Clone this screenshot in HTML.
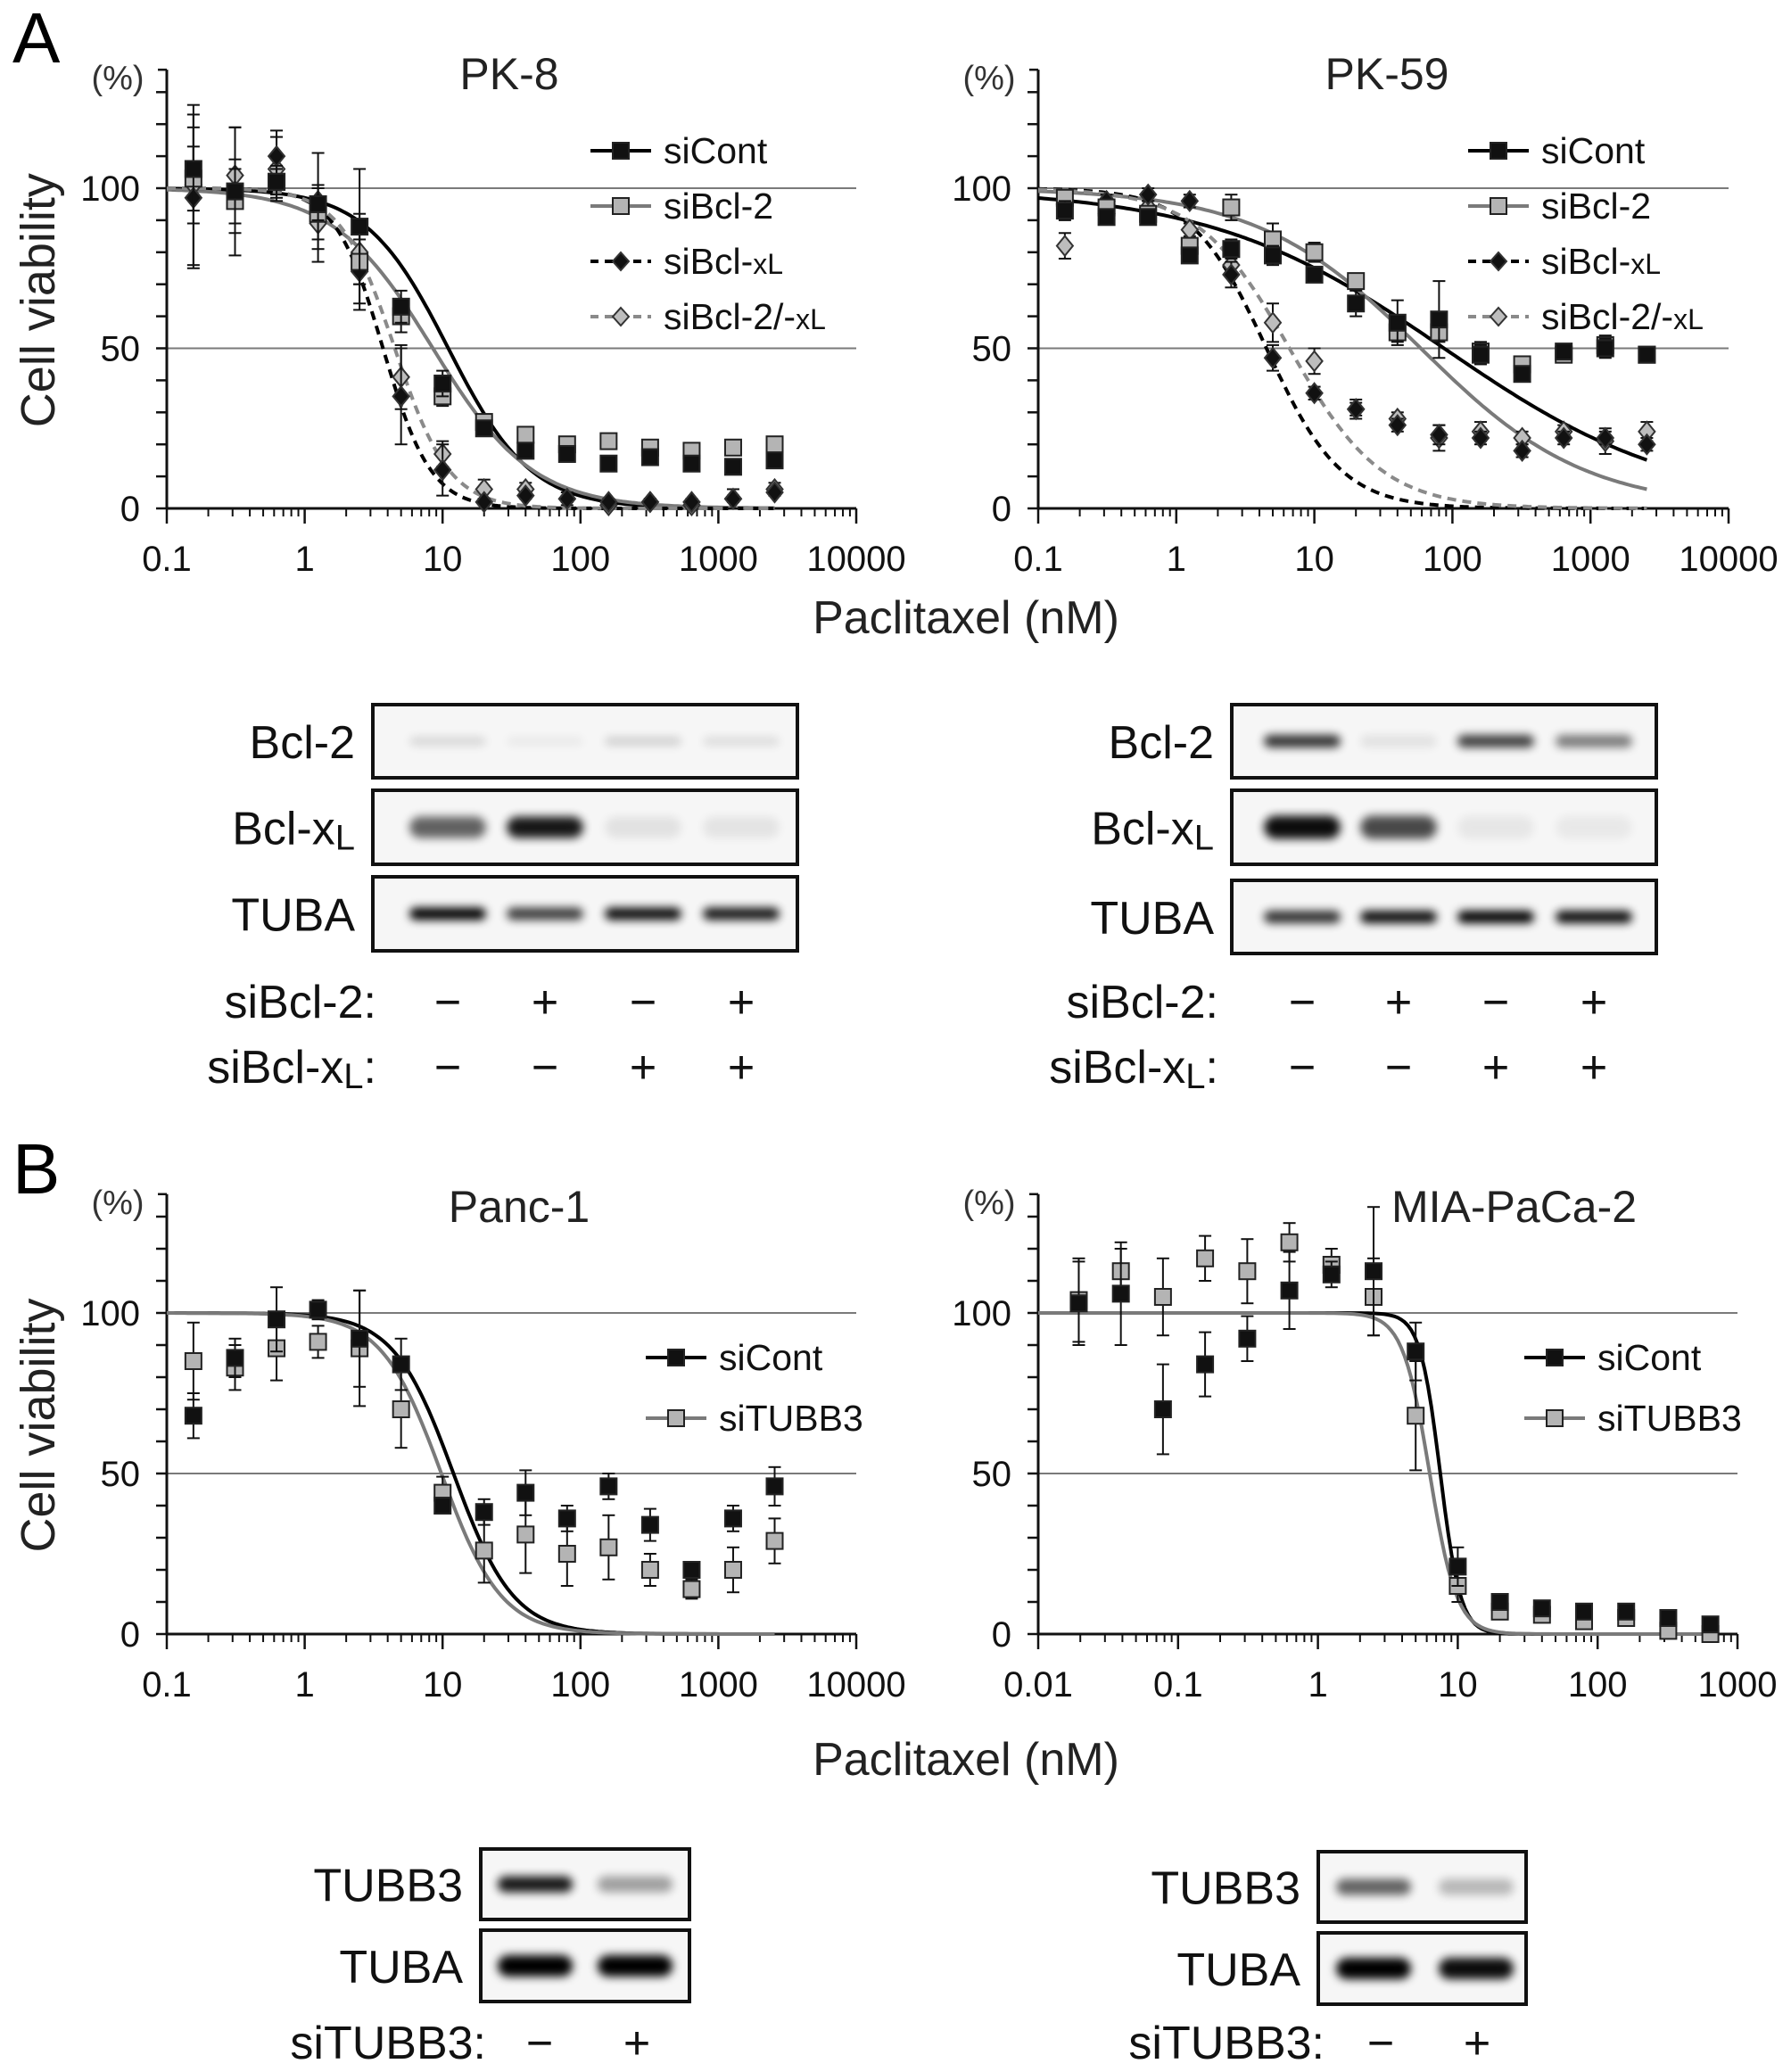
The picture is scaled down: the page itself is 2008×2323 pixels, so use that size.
<!DOCTYPE html>
<html><head><meta charset="utf-8"><style>
html,body{margin:0;padding:0;background:#fff;}
svg{display:block;font-family:"Liberation Sans",Arial,sans-serif;}
</style></head><body>
<svg id="fig" width="2008" height="2323" viewBox="0 0 2008 2323" xmlns="http://www.w3.org/2000/svg">
<defs>
<filter id="blur" x="-20%" y="-100%" width="140%" height="300%"><feGaussianBlur stdDeviation="5"/></filter>
</defs>
<g id="static">
<text x="14" y="70" font-size="80">A</text>
<text x="14" y="1338" font-size="80">B</text>
<text x="1083" y="710" font-size="52" text-anchor="middle" fill="#222">Paclitaxel (nM)</text>
<text x="1083" y="1990" font-size="52" text-anchor="middle" fill="#222">Paclitaxel (nM)</text>
</g>
<g id="plots"></g>
<g id="blots"></g>
</svg>
<script>
// ---------- data ----------
const dosesPK = [0.156,0.3125,0.625,1.25,2.5,5,10,20,40,80,160,320,640,1280,2560];
const dosesMIA = [0.0195,0.039,0.078,0.156,0.3125,0.625,1.25,2.5,5,10,20,40,80,160,320,640];
const xTicksA = ["0.1","1","10","100","1000","10000"];
const xTicksMIA = ["0.01","0.1","1","10","100","1000"];
const yTicks = [0,50,100];

const pk8Cont = [106,99,102,95,88,63,39,25,18,17,14,16,14,13,15];
const pk8Bcl2 = [103,96,102,92,77,60,35,27,23,20,21,19,18,19,20];
const pk8BclxL = [97,99,110,96,74,35,12,2,4,3,2,2,2,3,5];
const pk8Both = [101,104,106,89,80,41,17,6,6,3,1,2,1,3,6];
const pk8ContErr = [17,10,5,5,18,5,4,2,2,2,1,1,1,1,1];
const pk8Bcl2Err = [10,10,4,8,15,5,3,2,2,2,2,2,2,2,2];
const pk8BclxLErr = [22,20,8,15,10,15,8,1,1,1,1,1,1,1,1];
const pk8BothErr = [25,15,10,12,10,10,4,3,2,2,1,1,1,3,2];
const pk8Ic50 = [11,8.5,3.7,4.5];
const pk8Hill = [1.45,1.2,2.5,2.2];

const pk59Cont = [93,91,91,79,81,79,73,64,58,59,48,42,49,50,48];
const pk59Bcl2 = [97,94,92,82,94,84,80,71,55,55,49,45,48,51,48];
const pk59BclxL = [95,96,98,96,73,47,36,31,26,23,22,18,22,22,20];
const pk59Both = [82,92,94,87,76,58,46,31,28,22,24,22,24,21,24];
const pk59ContErr = [3,2,1,2,3,3,2,4,7,12,3,1,1,3,2];
const pk59Bcl2Err = [2,2,2,2,4,5,3,2,3,3,3,2,2,3,2];
const pk59BclxLErr = [2,2,2,2,4,4,2,2,2,3,2,2,2,2,2];
const pk59BothErr = [4,2,2,2,3,6,4,3,2,4,3,2,2,4,3];
const pk59Ic50 = [87,59,4.5,6.6];
const pk59Hill = [0.51,0.73,1.6,1.3];

const panc1Cont = [68,86,98,101,92,84,40,38,44,36,46,34,20,36,46];
const panc1Tubb3 = [85,83,89,91,89,70,44,26,31,25,27,20,14,20,29];
const panc1ContErr = [7,6,10,3,15,8,2,4,7,4,4,5,2,4,6];
const panc1Tubb3Err = [12,7,10,5,18,12,5,10,12,10,10,5,3,7,7];
const panc1Ic50 = [12,9.8];
const panc1Hill = [2.0,2.0];

const miaCont = [103,106,70,84,92,107,112,113,88,21,10,8,7,7,5,3];
const miaTubb3 = [104,113,105,117,113,122,115,105,68,15,7,6,4,5,1,0];
const miaContErr = [13,16,14,10,7,12,4,20,9,6,2,2,2,2,1,1];
const miaTubb3Err = [13,7,12,7,10,6,5,12,17,5,2,2,2,2,1,1];
const miaIc50 = [7.5,6.3];
const miaHill = [6,4.5];

// ---------- helpers ----------
const NS = "http://www.w3.org/2000/svg";
function mk(tag, attrs, parent){
  const e = document.createElementNS(NS, tag);
  for (const k in attrs) e.setAttribute(k, attrs[k]);
  if (parent) parent.appendChild(e);
  return e;
}
const plots = document.getElementById('plots');
const styles = {
  cont:{stroke:"#000", fill:"#111", dash:null, marker:"sq"},
  gray:{stroke:"#7a7a7a", fill:"#b4b4b4", dash:null, marker:"sq"},
  xl:{stroke:"#000", fill:"#111", dash:"10,7", marker:"di"},
  both:{stroke:"#8a8a8a", fill:"#bdbdbd", dash:"10,7", marker:"di"}
};

function drawPanel(p){
  const g = mk('g', {}, plots);
  
  
  const decs = Math.log10(p.xmax) - Math.log10(p.xmin);
  const xs = v => p.x0 + (Math.log10(v) - Math.log10(p.xmin)) / decs * (p.x1 - p.x0);
  const ys = v => p.y0 - v / 100 * (p.y0 - p.y100);
  [50,100].forEach(v=>{
    const l = mk('line', {x1:p.x0, x2:p.x1, y1:ys(v), y2:ys(v), stroke:"#7a7a7a", "stroke-width":2}, g);
    
    
  });
  const top = ys(137);
  const ya = mk('line', {x1:p.x0, x2:p.x0, y1:top, y2:p.y0, stroke:"#111", "stroke-width":3}, g);
  
  
  for (let v=0; v<=130; v+=10) mk('line', {x1:p.x0-12, x2:p.x0, y1:ys(v), y2:ys(v), stroke:"#111", "stroke-width":2.5}, g);
  mk('line', {x1:p.x0-10, x2:p.x0, y1:top, y2:top, stroke:"#111", "stroke-width":2.5}, g);
  yTicks.forEach(v=>{
    const t = mk('text', {x:p.x0-30, y:ys(v)+14, "font-size":40, "text-anchor":"end", fill:"#111"}, g);
    t.textContent = v;
    
    
  });
  const pc = mk('text', {x:p.x0-55, y:top+22, "font-size":38, "text-anchor":"middle", fill:"#333"}, g);
  pc.textContent = "(%)";
  
  
  if (p.yTitle){
    const yt = mk('text', {x:0, y:0, "font-size":54, "text-anchor":"middle", fill:"#222", transform:`translate(${p.x0-126},${ys(65)}) rotate(-90)`}, g);
    yt.textContent = "Cell viability";
    
    
  }
  const xa = mk('line', {x1:p.x0, x2:p.x1, y1:p.y0, y2:p.y0, stroke:"#111", "stroke-width":3}, g);
  
  
  const e0 = Math.round(Math.log10(p.xmin));
  for (let d=0; d<=decs; d++){
    const base = Math.pow(10, e0 + d);
    mk('line', {x1:xs(base), x2:xs(base), y1:p.y0, y2:p.y0+17, stroke:"#111", "stroke-width":2.5}, g);
    if (d < decs) for (let m=2; m<=9; m++) mk('line', {x1:xs(base*m), x2:xs(base*m), y1:p.y0, y2:p.y0+9, stroke:"#111", "stroke-width":2}, g);
    const t = mk('text', {x:xs(base), y:p.y0+70, "font-size":40, "text-anchor":"middle", fill:"#111"}, g);
    t.textContent = p.xlabels[d];
    
    
  }
  const tt = mk('text', {x:p.tx, y:p.ty, "font-size":50, "text-anchor":p.tanchor||"middle", fill:"#222"}, g);
  tt.textContent = p.title;
  
  
  p.series.forEach((s,i)=>{
    const st = styles[s.style];
    let d = "";
    const lo = Math.log10(p.xmin), hi = Math.log10(p.doses[p.doses.length-1]);
    for (let k=0; k<=200; k++){
      const lx = lo + (hi-lo)*k/200, x = Math.pow(10,lx);
      const v = 100/(1+Math.pow(x/p.ic50[i], p.hill[i]));
      d += (k?"L":"M") + xs(x).toFixed(1) + "," + ys(v).toFixed(1);
    }
    const c = mk('path', {d:d, fill:"none", stroke:st.stroke, "stroke-width":4}, g);
    if (st.dash) c.setAttribute('stroke-dasharray', st.dash);
    
    
  });
  for (let i=p.series.length-1; i>=0; i--){
    const s = p.series[i], st = styles[s.style];
    const sg = mk('g', {}, g);
    
    
    s.vals.forEach((v,j)=>{
      const x = xs(p.doses[j]), y = ys(v), e = s.err[j]*(p.y0-p.y100)/100;
      mk('line', {x1:x, x2:x, y1:y-e, y2:y+e, stroke:"#111", "stroke-width":2}, sg);
      mk('line', {x1:x-7, x2:x+7, y1:y-e, y2:y-e, stroke:"#111", "stroke-width":2}, sg);
      mk('line', {x1:x-7, x2:x+7, y1:y+e, y2:y+e, stroke:"#111", "stroke-width":2}, sg);
      let m;
      if (st.marker === "sq") m = mk('rect', {x:x-9, y:y-9, width:18, height:18, fill:st.fill, stroke:"#222", "stroke-width":2}, sg);
      else m = mk('polygon', {points:`${x},${y-11} ${x+9},${y} ${x},${y+11} ${x-9},${y}`, fill:st.fill, stroke:"#333", "stroke-width":2}, sg);
      
      
    });
  }
  p.series.forEach((s,i)=>{
    const st = styles[s.style];
    const lg = mk('g', {}, g);
    
    
    const ly = p.ly + i*p.lstep;
    const ln = mk('line', {x1:p.lx, x2:p.lx+68, y1:ly, y2:ly, stroke:st.stroke, "stroke-width":4}, lg);
    if (st.dash) ln.setAttribute('stroke-dasharray', "9,7");
    const cx = p.lx+34;
    if (st.marker === "sq") mk('rect', {x:cx-9, y:ly-9, width:18, height:18, fill:st.fill, stroke:"#222", "stroke-width":2}, lg);
    else mk('polygon', {points:`${cx},${ly-10} ${cx+9},${ly} ${cx},${ly+10} ${cx-9},${ly}`, fill:st.fill, stroke:"#333", "stroke-width":2}, lg);
    const t = mk('text', {x:p.lx+82, y:ly+14, "font-size":41, fill:"#111"}, lg);
    t.textContent = s.label;
    if (s.sub){ const ts = mk('tspan', {"font-size":32}, t); ts.textContent = s.sub; }
  });
}

const ser4 = (c,b,x,bo,ce,be,xe,boe)=>[
  {key:"sicont", label:"siCont", style:"cont", vals:c, err:ce},
  {key:"sibcl2", label:"siBcl-2", style:"gray", vals:b, err:be},
  {key:"sibclxl", label:"siBcl-", sub:"xL", style:"xl", vals:x, err:xe},
  {key:"sibcl2-xl", label:"siBcl-2/-", sub:"xL", style:"both", vals:bo, err:boe}];

drawPanel({name:"chart-pk8", yTitle:true, x0:187, x1:960, y0:570, y100:211, xmin:0.1, xmax:10000, xlabels:xTicksA,
  doses:dosesPK, title:"PK-8", tx:571, ty:100, ic50:pk8Ic50, hill:pk8Hill, lx:662, ly:169, lstep:62,
  series:ser4(pk8Cont,pk8Bcl2,pk8BclxL,pk8Both,pk8ContErr,pk8Bcl2Err,pk8BclxLErr,pk8BothErr)});
drawPanel({name:"chart-pk59", yTitle:false, x0:1164, x1:1938, y0:570, y100:211, xmin:0.1, xmax:10000, xlabels:xTicksA,
  doses:dosesPK, title:"PK-59", tx:1555, ty:100, ic50:pk59Ic50, hill:pk59Hill, lx:1646, ly:169, lstep:62,
  series:ser4(pk59Cont,pk59Bcl2,pk59BclxL,pk59Both,pk59ContErr,pk59Bcl2Err,pk59BclxLErr,pk59BothErr)});
drawPanel({name:"chart-panc1", yTitle:true, x0:187, x1:960, y0:1832, y100:1472, xmin:0.1, xmax:10000, xlabels:xTicksA,
  doses:dosesPK, title:"Panc-1", tx:582, ty:1370, ic50:panc1Ic50, hill:panc1Hill, lx:724, ly:1522, lstep:68,
  series:[{key:"sicont", label:"siCont", style:"cont", vals:panc1Cont, err:panc1ContErr},
          {key:"situbb3", label:"siTUBB3", style:"gray", vals:panc1Tubb3, err:panc1Tubb3Err}]});
drawPanel({name:"chart-mia-paca2", yTitle:false, x0:1164, x1:1948, y0:1832, y100:1472, xmin:0.01, xmax:1000, xlabels:xTicksMIA,
  doses:dosesMIA, title:"MIA-PaCa-2", tx:1560, ty:1370, tanchor:"start", ic50:miaIc50, hill:miaHill, lx:1709, ly:1522, lstep:68,
  series:[{key:"sicont", label:"siCont", style:"cont", vals:miaCont, err:miaContErr},
          {key:"situbb3", label:"siTUBB3", style:"gray", vals:miaTubb3, err:miaTubb3Err}]});

// ---------- western blots ----------
const blotsG = document.getElementById('blots');
function blot(name, x, y, w, h, lanes, intens, thick, label, sub){
  const g = mk('g', {}, blotsG);
  
  
  mk('rect', {x:x, y:y, width:w, height:h, fill:"#f6f6f6"}, g);
  const rx = w / lanes.length * 0.36;
  lanes.forEach((lx,i)=>{
    const o = intens[i];
    if (o > 0) mk('rect', {x:lx-rx, y:y+h/2-thick, width:2*rx, height:2*thick, rx:thick, fill:"#000", opacity:o, filter:"url(#blur)"}, g);
  });
  mk('rect', {x:x, y:y, width:w, height:h, fill:"none", stroke:"#111", "stroke-width":4}, g);
  const t = mk('text', {x:x-20, y:y+h/2+19, "font-size":52, "text-anchor":"end", fill:"#111"}, g);
  t.textContent = label;
  if (sub){ const ts = mk('tspan', {"font-size":40, dy:6}, t); ts.textContent = sub; }
}
const lanesL = [502,611,721,831], lanesR = [1460,1568,1677,1787];
blot("blot-pk8-bcl2", 418, 790, 476, 82, lanesL, [0.12,0.05,0.15,0.1], 5, "Bcl-2");
blot("blot-pk8-bclxl", 418, 886, 476, 83, lanesL, [0.6,0.9,0.08,0.07], 12, "Bcl-x", "L");
blot("blot-pk8-tuba", 418, 983, 476, 83, lanesL, [1,0.75,0.95,0.9], 7, "TUBA");
blot("blot-pk59-bcl2", 1381, 790, 476, 82, lanesR, [0.8,0.08,0.75,0.5], 7, "Bcl-2");
blot("blot-pk59-bclxl", 1381, 886, 476, 83, lanesR, [0.95,0.7,0.06,0.05], 13, "Bcl-x", "L");
blot("blot-pk59-tuba", 1381, 987, 476, 82, lanesR, [0.8,0.95,1,0.95], 7, "TUBA");
blot("blot-panc1-tubb3", 539, 2073, 234, 79, [600,712], [0.9,0.35], 9, "TUBB3");
blot("blot-panc1-tuba", 539, 2164, 234, 80, [600,712], [1,1], 12, "TUBA");
blot("blot-mia-tubb3", 1478, 2076, 233, 79, [1540,1655], [0.6,0.25], 9, "TUBB3");
blot("blot-mia-tuba", 1478, 2167, 233, 80, [1540,1655], [1,0.95], 12, "TUBA");

const siBcl2Signs = ["−","+","−","+"];
const siBclxlSigns = ["−","−","+","+"];
const siTubbSigns = ["−","+"];
function signRow(name, labelX, y, label, sub, lanes, signs){
  const g = mk('g', {}, blotsG);
  
  
  const t = mk('text', {x:labelX, y:y+18, "font-size":52, "text-anchor":"end", fill:"#111"}, g);
  t.textContent = label;
  if (sub){ const ts = mk('tspan', {"font-size":40, dy:6}, t); ts.textContent = sub;
    const t2 = mk('tspan', {"font-size":52, dy:-6}, t); t2.textContent = ":"; }
  signs.forEach((s,i)=>{
    const c = mk('text', {x:lanes[i], y:y+18, "font-size":52, "text-anchor":"middle", fill:"#111"}, g);
    c.textContent = s;
  });
}
signRow("row-sibcl2-left", 422, 1123, "siBcl-2:", null, lanesL, siBcl2Signs);
signRow("row-sibclxl-left", 422, 1196, "siBcl-x", "L", lanesL, siBclxlSigns);
signRow("row-sibcl2-right", 1366, 1123, "siBcl-2:", null, lanesR, siBcl2Signs);
signRow("row-sibclxl-right", 1366, 1196, "siBcl-x", "L", lanesR, siBclxlSigns);
signRow("row-situbb3-left", 545, 2290, "siTUBB3:", null, [605,714], siTubbSigns);
signRow("row-situbb3-right", 1485, 2290, "siTUBB3:", null, [1548,1656], siTubbSigns);
</script>
</body></html>
